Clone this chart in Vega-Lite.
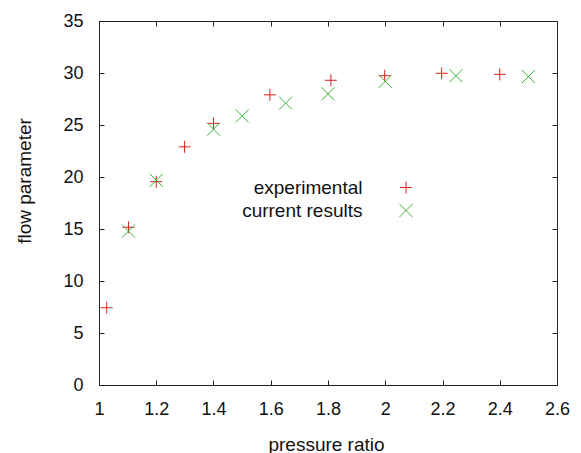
{
  "$schema": "https://vega.github.io/schema/vega-lite/v6.json",
  "autosize": "none",
  "width": 458,
  "height": 364,
  "padding": {"left": 99, "top": 21, "right": 24, "bottom": 68},
  "background": "white",
  "config": {
    "font": "Liberation Sans",
    "view": {"stroke": "#222", "strokeWidth": 1},
    "axis": {
      "grid": false,
      "domain": false,
      "tickColor": "#222",
      "tickSize": -5,
      "labelFont": "Liberation Sans",
      "labelFontSize": 18,
      "labelColor": "#111",
      "titleFont": "Liberation Sans",
      "titleFontSize": 19,
      "titleFontWeight": "normal",
      "titleColor": "#111"
    },
    "legend": {
      "labelFont": "Liberation Sans",
      "labelFontSize": 19,
      "labelColor": "#111"
    }
  },
  "data": {
    "values": [
      {"pressure_ratio": 1.027, "flow_parameter": 7.43, "series": "experimental"},
      {"pressure_ratio": 1.103, "flow_parameter": 15.16, "series": "experimental"},
      {"pressure_ratio": 1.2, "flow_parameter": 19.55, "series": "experimental"},
      {"pressure_ratio": 1.299, "flow_parameter": 22.9, "series": "experimental"},
      {"pressure_ratio": 1.4, "flow_parameter": 25.16, "series": "experimental"},
      {"pressure_ratio": 1.597, "flow_parameter": 27.9, "series": "experimental"},
      {"pressure_ratio": 1.81, "flow_parameter": 29.3, "series": "experimental"},
      {"pressure_ratio": 1.998, "flow_parameter": 29.74, "series": "experimental"},
      {"pressure_ratio": 2.197, "flow_parameter": 29.97, "series": "experimental"},
      {"pressure_ratio": 2.4, "flow_parameter": 29.87, "series": "experimental"},
      {"pressure_ratio": 1.103, "flow_parameter": 14.8, "series": "current results"},
      {"pressure_ratio": 1.2, "flow_parameter": 19.68, "series": "current results"},
      {"pressure_ratio": 1.4, "flow_parameter": 24.6, "series": "current results"},
      {"pressure_ratio": 1.5, "flow_parameter": 25.87, "series": "current results"},
      {"pressure_ratio": 1.652, "flow_parameter": 27.1, "series": "current results"},
      {"pressure_ratio": 1.8, "flow_parameter": 28.0, "series": "current results"},
      {"pressure_ratio": 2.0, "flow_parameter": 29.2, "series": "current results"},
      {"pressure_ratio": 2.247, "flow_parameter": 29.74, "series": "current results"},
      {"pressure_ratio": 2.5, "flow_parameter": 29.65, "series": "current results"}
    ]
  },
  "resolve": {"axis": {"x": "independent", "y": "independent"}},
  "layer": [
    {
      "mark": {"type": "point", "filled": false, "strokeWidth": 1, "opacity": 1},
      "encoding": {
        "x": {
          "field": "pressure_ratio", "type": "quantitative",
          "scale": {"domain": [1, 2.6], "nice": false, "zero": false},
          "axis": {
            "orient": "bottom", "title": "pressure ratio", "format": "~g",
            "values": [1, 1.2, 1.4, 1.6, 1.8, 2, 2.2, 2.4, 2.6],
            "labelPadding": 20, "labelFlush": false, "labelOverlap": false,
            "titleX": 227, "titleY": 59, "titleBaseline": "middle", "titleAlign": "center"
          }
        },
        "y": {
          "field": "flow_parameter", "type": "quantitative",
          "scale": {"domain": [0, 35], "nice": false},
          "axis": {
            "orient": "left", "title": "flow parameter",
            "values": [0, 5, 10, 15, 20, 25, 30, 35],
            "labelPadding": 21, "labelFlush": false, "labelOverlap": false,
            "titleX": -75, "titleY": 159.5, "titleBaseline": "middle", "titleAlign": "center", "titleAngle": -90
          }
        },
        "color": {
          "field": "series", "type": "nominal",
          "scale": {"domain": ["experimental", "current results"], "range": ["#dc2020", "#3cb43c"]},
          "legend": {
            "title": null, "orient": "none", "legendX": 297.5, "legendY": 157,
            "labelAlign": "right", "labelOffset": -53, "padding": 0, "rowPadding": 3,
            "symbolStrokeWidth": 1, "labelLimit": 0
          }
        },
        "shape": {
          "field": "series", "type": "nominal",
          "scale": {"domain": ["experimental", "current results"], "range": ["M-1,0H1M0,-1V1", "M-1,-1L1,1M-1,1L1,-1"]}
        },
        "size": {
          "field": "series", "type": "nominal",
          "scale": {"domain": ["experimental", "current results"], "range": [144, 169]}
        }
      }
    },
    {
      "mark": {"type": "point", "opacity": 0},
      "encoding": {
        "x": {
          "field": "pressure_ratio", "type": "quantitative",
          "axis": {"orient": "top", "title": null, "labels": false, "values": [1, 1.2, 1.4, 1.6, 1.8, 2, 2.2, 2.4, 2.6]}
        },
        "y": {
          "field": "flow_parameter", "type": "quantitative",
          "axis": {"orient": "right", "title": null, "labels": false, "values": [0, 5, 10, 15, 20, 25, 30, 35]}
        }
      }
    }
  ]
}
